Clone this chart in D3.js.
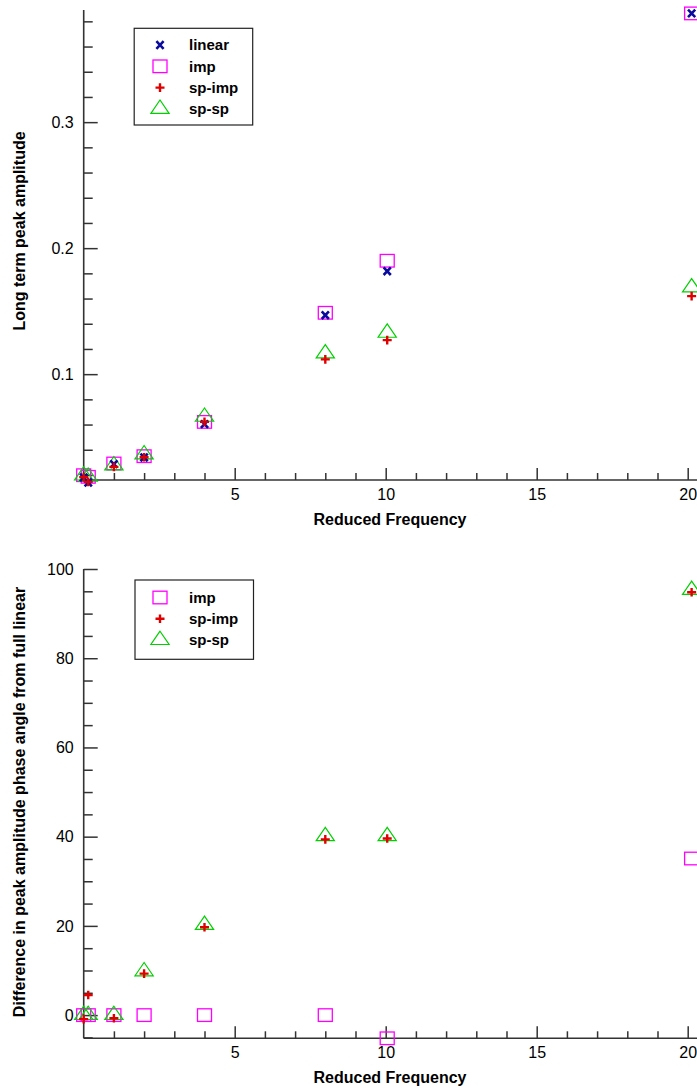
<!DOCTYPE html>
<html>
<head>
<meta charset="utf-8">
<script src="https://cdn.jsdelivr.net/npm/d3@7"></script>
<style>
  html, body { margin: 0; padding: 0; background: #fff; }
  svg { display: block; font-family: "Liberation Sans", Arial, Helvetica, sans-serif; }
</style>
</head>
<body>
<svg id="chart" width="697" height="1089"></svg>
<script>
// Reduced frequencies at which the runs were made
const frequencies = [0, 0.15, 1, 2, 4, 8, 10.05, 20.13];

// Long term peak amplitude per model
const linearAmp = [0.018, 0.014, 0.0286, 0.0339, 0.0603, 0.1468, 0.1817, 0.3863];
const impAmp    = [0.0198, 0.0185, 0.0291, 0.0349, 0.0621, 0.1487, 0.1900, 0.3863];
const spImpAmp  = [0.0183, 0.0145, 0.0264, 0.0340, 0.0621, 0.1117, 0.1270, 0.1619];
const spSpAmp   = [0.0195, 0.0185, 0.0276, 0.0363, 0.0661, 0.1164, 0.1328, 0.1688];

// Phase angle difference from the full linear model (degrees)
const impPhase   = [0, 0, 0, 0, 0, 0, -5.2, 35.1];
const spImpPhase = [-0.9, 4.5, -0.7, 9.3, 19.7, 39.4, 39.6, 94.8];
const spSpPhase  = [0, 0, 0, 9.8, 20.2, 40.1, 40.1, 95.3];

// Axis settings
const xMajorTicks = [5, 10, 15, 20];
const ampMajorTicks = [0.1, 0.2, 0.3];
const phaseMajorTicks = [0, 20, 40, 60, 80, 100];

const svg = d3.select("#chart");

const COLORS = {
  linear: "#0a0a9c",
  imp: "#ff00ff",
  spImp: "#e00000",
  spSp: "#00d000",
  axis: "#333"
};

// marker drawing helpers
function drawMarker(g, type, x, y) {
  if (type === "imp") {
    g.append("rect").attr("x", x - 7).attr("y", y - 6.3).attr("width", 14).attr("height", 12.6)
      .attr("fill", "none").attr("stroke", COLORS.imp).attr("stroke-width", 1.3);
  } else if (type === "spSp") {
    const p = [[x, y - 8.9], [x - 9.1, y + 4.4], [x + 9.1, y + 4.4]];
    g.append("path").attr("d", "M" + p.join("L") + "Z")
      .attr("fill", "none").attr("stroke", COLORS.spSp).attr("stroke-width", 1.2);
  } else if (type === "spImp") {
    g.append("path").attr("d", `M${x - 4.5},${y}H${x + 4.5}M${x},${y - 4.3}V${y + 4.3}`)
      .attr("stroke", COLORS.spImp).attr("stroke-width", 2.4);
  } else if (type === "linear") {
    g.append("path").attr("d", `M${x - 3.6},${y - 3.8}L${x + 3.6},${y + 3.8}M${x + 3.6},${y - 3.8}L${x - 3.6},${y + 3.8}`)
      .attr("stroke", COLORS.linear).attr("stroke-width", 2.6);
  }
}

function drawPanel(opts) {
  const g = svg.append("g");
  const x = d3.scaleLinear().domain([0, 20]).range([83.7, 687.7]);
  const y = d3.scaleLinear().domain(opts.yDomain).range(opts.yRange);
  const x0 = x(0), yBase = opts.yRange[0], yTop = opts.yRange[1];

  // x axis: minor ticks every 1, majors every 5
  const xMinor = d3.range(1, 21).filter(v => v % 5 !== 0);
  const gxMinor = g.append("g").attr("transform", `translate(0,${yBase})`)
    .call(d3.axisBottom(x).tickValues(xMinor).tickSizeInner(-7).tickSizeOuter(0).tickFormat(""));
  const gx = g.append("g").attr("transform", `translate(0,${yBase})`)
    .call(d3.axisBottom(x).tickValues(xMajorTicks).tickSizeInner(-12).tickSizeOuter(0).tickPadding(8.6).tickFormat(d3.format("d")));
  [gxMinor, gx].forEach(a => {
    a.select(".domain").remove();
    a.selectAll("line").attr("stroke", COLORS.axis).attr("stroke-width", 1.5);
  });
  gx.selectAll("text").attr("font-size", 16).attr("fill", "#000");
  g.append("line").attr("x1", x0).attr("x2", 700).attr("y1", yBase).attr("y2", yBase)
    .attr("stroke", COLORS.axis).attr("stroke-width", 1.6);

  // y axis
  const gyMinor = g.append("g").attr("transform", `translate(${x0},0)`)
    .call(d3.axisLeft(y).tickValues(opts.yMinor).tickSizeInner(-9).tickSizeOuter(0).tickFormat(""));
  const gy = g.append("g").attr("transform", `translate(${x0},0)`)
    .call(d3.axisLeft(y).tickValues(opts.yMajor).tickSizeInner(-14).tickSizeOuter(0).tickPadding(10).tickFormat(opts.yFormat));
  [gyMinor, gy].forEach(a => {
    a.select(".domain").remove();
    a.selectAll("line").attr("stroke", COLORS.axis).attr("stroke-width", 1.5);
  });
  gy.selectAll("text").attr("font-size", 16).attr("fill", "#000");
  g.append("line").attr("x1", x0).attr("x2", x0).attr("y1", yBase).attr("y2", yTop)
    .attr("stroke", COLORS.axis).attr("stroke-width", 1.6);

  // axis titles
  g.append("text").attr("x", 390).attr("y", yBase + 45).attr("text-anchor", "middle")
    .attr("font-size", 16).attr("font-weight", "bold").text("Reduced Frequency");
  g.append("text").attr("transform", `translate(25,${opts.yTitleCenter}) rotate(-90)`)
    .attr("text-anchor", "middle").attr("font-size", 16).attr("font-weight", "bold").text(opts.yTitle);

  // data markers
  const marks = g.append("g");
  opts.series.forEach(s => {
    s.values.forEach((v, i) => {
      if (v == null) return;
      drawMarker(marks, s.type, x(frequencies[i]), y(v));
    });
  });

  // legend
  const lg = g.append("g");
  lg.append("rect").attr("x", opts.legend.x).attr("y", opts.legend.y)
    .attr("width", 118.5).attr("height", opts.legend.h)
    .attr("fill", "#fff").attr("stroke", "#222").attr("stroke-width", 1.2);
  opts.legendItems.forEach((s, i) => {
    const cy = opts.legend.firstRow + i * opts.legend.step;
    drawMarker(lg, s.type, 160, cy);
    lg.append("text").attr("x", 189).attr("y", cy + 5.3).attr("font-size", 15)
      .attr("font-weight", "bold").text(s.label);
  });
}

const ampSeries = [
  { type: "imp", label: "imp", values: impAmp },
  { type: "spSp", label: "sp-sp", values: spSpAmp },
  { type: "linear", label: "linear", values: linearAmp },
  { type: "spImp", label: "sp-imp", values: spImpAmp }
];

drawPanel({
  yDomain: [0.016, 0.389],
  yRange: [480, 10],
  yMajor: ampMajorTicks,
  yMinor: d3.range(1, 20).map(i => i * 0.02).filter(v => v > 0.016 && Math.abs(v * 10 - Math.round(v * 10)) > 1e-6),
  yFormat: d3.format(".1f"),
  yTitle: "Long term peak amplitude",
  yTitleCenter: 231,
  series: ampSeries,
  legend: { x: 134.2, y: 28.3, h: 96.7, firstRow: 45, step: 21.3 },
  legendItems: [
    { type: "linear", label: "linear" },
    { type: "imp", label: "imp" },
    { type: "spImp", label: "sp-imp" },
    { type: "spSp", label: "sp-sp" }
  ]
});

drawPanel({
  yDomain: [-5.2, 100],
  yRange: [1038.3, 569],
  yMajor: phaseMajorTicks,
  yMinor: d3.range(-1, 20).map(i => i * 5).filter(v => v % 20 !== 0 && v > -5.2),
  yFormat: d3.format("d"),
  yTitle: "Difference in peak amplitude phase angle from full linear",
  yTitleCenter: 802,
  series: [
    { type: "imp", values: impPhase },
    { type: "spSp", values: spSpPhase },
    { type: "spImp", values: spImpPhase }
  ],
  legend: { x: 135, y: 580, h: 79.3, firstRow: 597.5, step: 21.3 },
  legendItems: [
    { type: "imp", label: "imp" },
    { type: "spImp", label: "sp-imp" },
    { type: "spSp", label: "sp-sp" }
  ]
});
</script>
</body>
</html>
